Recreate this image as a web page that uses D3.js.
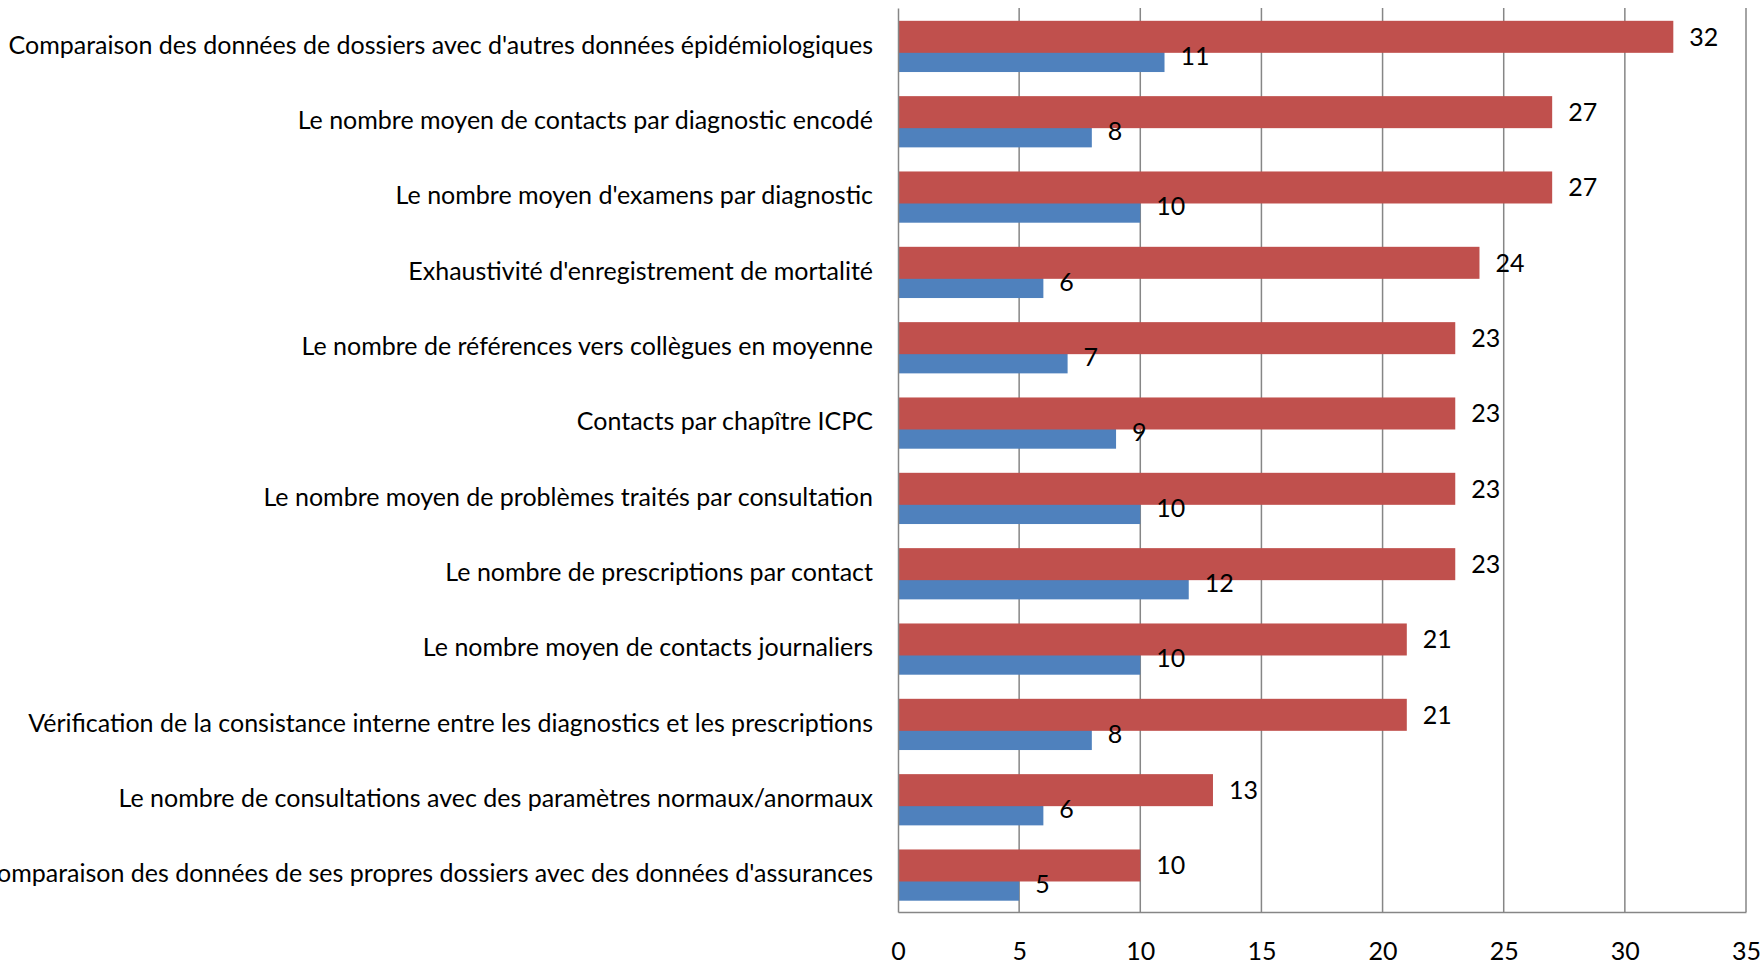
<!DOCTYPE html>
<html>
<head>
<meta charset="utf-8">
<script src="https://cdn.jsdelivr.net/npm/d3@7"></script>
<style>
  body { margin: 0; background: #fff; overflow: hidden; }
  svg { display: block; }
  svg text { font-family: Lato, "Open Sans", sans-serif; fill: #000; }
</style>
</head>
<body>
<svg id="chart"></svg>
<script>
// Data
const categories = [
  "Comparaison des données de dossiers avec d'autres données épidémiologiques",
  "Le nombre moyen de contacts par diagnostic encodé",
  "Le nombre moyen d'examens par diagnostic",
  "Exhaustivité d'enregistrement de mortalité",
  "Le nombre de références vers collègues en moyenne",
  "Contacts par chapître ICPC",
  "Le nombre moyen de problèmes traités par consultation",
  "Le nombre de prescriptions par contact",
  "Le nombre moyen de contacts journaliers",
  "Vérification de la consistance interne entre les diagnostics et les prescriptions",
  "Le nombre de consultations avec des paramètres normaux/anormaux",
  "Comparaison des données de ses propres dossiers avec des données d'assurances"
];
const blueValues = [11, 8, 10, 6, 7, 9, 10, 12, 10, 8, 6, 5];
const redValues = [32, 27, 27, 24, 23, 23, 23, 23, 21, 21, 13, 10];
const xTicks = [0, 5, 10, 15, 20, 25, 30, 35];

// Dimensions
const width = 1764;
const height = 966;
const plotLeft = 898, plotRight = 1746, plotTop = 8, plotBottom = 912;
const fontSize = '25px';

const svg = d3.select('#chart')
  .attr('width', width)
  .attr('height', height);

// Scales
const xScale = d3.scaleLinear()
  .domain([0, 35])
  .range([plotLeft, plotRight]);

const yScale = d3.scaleBand()
  .domain(categories)
  .range([plotTop, plotBottom]);

const band = yScale.bandwidth();
const barH = band * 0.425;
const redOff = band * 0.17;
const blueOff = band * 0.425;

// Gridlines
svg.append('g')
  .selectAll('line')
  .data(xTicks.slice(1))
  .enter()
  .append('line')
  .attr('x1', d => xScale(d))
  .attr('x2', d => xScale(d))
  .attr('y1', plotTop)
  .attr('y2', plotBottom)
  .attr('stroke', '#868686')
  .attr('stroke-width', 1.5);

// Blue bars (series 1) drawn first, red overlaps
const rows = categories.map((c, i) => ({ c, b: blueValues[i], r: redValues[i] }));

svg.selectAll('.blue')
  .data(rows)
  .enter()
  .append('rect')
  .attr('class', 'blue')
  .attr('x', xScale(0))
  .attr('y', d => yScale(d.c) + blueOff)
  .attr('width', d => xScale(d.b) - xScale(0))
  .attr('height', barH)
  .attr('fill', '#4F81BD');

svg.selectAll('.red')
  .data(rows)
  .enter()
  .append('rect')
  .attr('class', 'red')
  .attr('x', xScale(0))
  .attr('y', d => yScale(d.c) + redOff)
  .attr('width', d => xScale(d.r) - xScale(0))
  .attr('height', barH)
  .attr('fill', '#C0504D');

// Value labels
svg.selectAll('.lblB')
  .data(rows)
  .enter()
  .append('text')
  .attr('x', d => xScale(d.b) + 16)
  .attr('y', d => yScale(d.c) + blueOff + barH / 2)
  .attr('dy', '0.35em')
  .style('font-size', fontSize)
  .text(d => d.b);

svg.selectAll('.lblR')
  .data(rows)
  .enter()
  .append('text')
  .attr('x', d => xScale(d.r) + 16)
  .attr('y', d => yScale(d.c) + redOff + barH / 2)
  .attr('dy', '0.35em')
  .style('font-size', fontSize)
  .text(d => d.r);

// Axes
const yAxis = d3.axisLeft(yScale).tickSize(0).tickPadding(25);
const gy = svg.append('g')
  .attr('transform', `translate(${plotLeft}, 0)`)
  .call(yAxis);
gy.select('.domain').attr('stroke', '#868686').attr('stroke-width', 1.5);
gy.selectAll('text')
  .style('font-size', fontSize)
  .style('font-family', 'Lato, sans-serif');

const xAxis = d3.axisBottom(xScale).tickValues(xTicks).tickSize(0).tickPadding(30);
const gx = svg.append('g')
  .attr('transform', `translate(0, ${plotBottom})`)
  .call(xAxis);
gx.select('.domain').attr('stroke', '#868686').attr('stroke-width', 1.5);
gx.selectAll('text')
  .style('font-size', fontSize)
  .style('font-family', 'Lato, sans-serif');
</script>
</body>
</html>
